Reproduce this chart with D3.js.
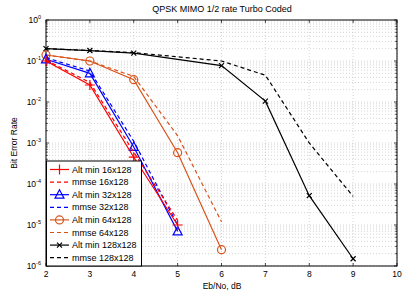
<!DOCTYPE html>
<html>
<head>
<meta charset="utf-8">
<script src="https://cdn.jsdelivr.net/npm/d3@7"></script>
<style>
  body { margin: 0; background: #fff; }
  text { font-family: "Liberation Sans", Arial, sans-serif; }
</style>
</head>
<body>
<svg id="chart" width="413" height="297"></svg>
<script>
// Eb/No values and BER per curve
const ebno = [2, 3, 4, 5, 6, 7, 8, 9];
const ebno128 = [2, 3, 4, 6, 7, 8, 9];

const altMin16 = [0.1, 0.026, 4.5e-4, 1.0e-5];
const mmse16 = [0.105, 0.03, 6e-4, 1.3e-5];
const altMin32 = [0.11, 0.05, 8e-4, 7e-6];
const mmse32 = [0.12, 0.057, 1.1e-3, 1.0e-5];
const altMin64 = [0.14, 0.1, 0.035, 5.8e-4, 2.5e-6];
const mmse64 = [0.14, 0.1, 0.042, 1.5e-3, 1.2e-5];
const altMin128 = [0.2, 0.18, 0.155, 0.077, 0.0105, 5.2e-5, 1.5e-6];
const mmse128 = [0.2, 0.18, 0.16, 0.1, 0.045, 1.0e-3, 5e-5];

const xTicks = [2, 3, 4, 5, 6, 7, 8, 9, 10];
const yExps = [0, -1, -2, -3, -4, -5, -6];

const seriesNames = ['Alt min 16x128', 'mmse 16x128', 'Alt min 32x128', 'mmse 32x128',
  'Alt min 64x128', 'mmse 64x128', 'Alt min 128x128', 'mmse 128x128'];
const seriesData = [altMin16, mmse16, altMin32, mmse32, altMin64, mmse64, altMin128, mmse128];
const seriesX = [ebno, ebno, ebno, ebno, ebno, ebno, ebno128, ebno128];
const seriesColors = ['#ff0000', '#ff0000', '#0000ff', '#0000ff', '#d95319', '#d95319', '#000000', '#000000'];
const seriesDash = [null, '4,3', null, '4,3', null, '4,3', null, '4,3'];
const seriesMarker = ['plus', null, 'triangle', null, 'circle', null, 'cross', null];

const svg = d3.select('#chart');
const pL = 46, pR = 397, pT = 20, pB = 266;

const x = d3.scaleLinear().domain([2, 10]).range([pL, pR]);
const y = d3.scaleLog().domain([1e-6, 1]).range([pB, pT]);

// grid
const grid = svg.append('g');
xTicks.forEach(function(t) {
  grid.append('line').attr('x1', x(t)).attr('x2', x(t)).attr('y1', pT).attr('y2', pB)
    .attr('stroke', '#bbb').attr('stroke-width', 0.6).attr('stroke-dasharray', '1,2');
});
for (let e = -6; e < 0; e++) {
  for (let m = 1; m < 10; m++) {
    const v = m * Math.pow(10, e);
    grid.append('line').attr('x1', pL).attr('x2', pR).attr('y1', y(v)).attr('y2', y(v))
      .attr('stroke', '#bbb').attr('stroke-width', 0.6).attr('stroke-dasharray', '1,2');
  }
}

// axes box
svg.append('rect').attr('x', pL).attr('y', pT).attr('width', pR - pL).attr('height', pB - pT)
  .attr('fill', 'none').attr('stroke', '#000').attr('stroke-width', 1);

// ticks
const tk = svg.append('g').attr('stroke', '#000').attr('stroke-width', 0.7);
xTicks.forEach(function(t) {
  tk.append('line').attr('x1', x(t)).attr('x2', x(t)).attr('y1', pB).attr('y2', pB - 3);
  tk.append('line').attr('x1', x(t)).attr('x2', x(t)).attr('y1', pT).attr('y2', pT + 3);
  svg.append('text').attr('x', x(t)).attr('y', pB + 11).attr('text-anchor', 'middle')
    .attr('font-size', 8.5).text(t);
});
for (let e = -6; e <= 0; e++) {
  for (let m = 1; m < 10; m++) {
    if (e === 0 && m > 1) break;
    const v = m * Math.pow(10, e);
    const len = m === 1 ? 3 : 1.8;
    tk.append('line').attr('x1', pL).attr('x2', pL + len).attr('y1', y(v)).attr('y2', y(v));
    tk.append('line').attr('x1', pR).attr('x2', pR - len).attr('y1', y(v)).attr('y2', y(v));
  }
}
yExps.forEach(function(e) {
  const t = svg.append('text').attr('x', pL - 5).attr('y', y(Math.pow(10, e)) + 3)
    .attr('text-anchor', 'end').attr('font-size', 8.5);
  t.append('tspan').text('10');
  t.append('tspan').attr('dy', -4).attr('font-size', 5.5).text(e);
});

// titles
svg.append('text').attr('x', 222).attr('y', 12).attr('text-anchor', 'middle')
  .attr('font-size', 9).text('QPSK MIMO 1/2 rate Turbo Coded');
svg.append('text').attr('x', 222).attr('y', 289).attr('text-anchor', 'middle')
  .attr('font-size', 8.5).text('Eb/No, dB');
svg.append('text').attr('transform', 'translate(17,' + ((pT + pB) / 2) + ') rotate(-90)')
  .attr('text-anchor', 'middle').attr('font-size', 8.5).text('Bit Error Rate');

function drawMarker(g, kind, cx, cy, color) {
  if (kind === 'plus') {
    g.append('path').attr('d', 'M' + (cx - 5) + ',' + cy + 'H' + (cx + 5) + 'M' + cx + ',' + (cy - 5) + 'V' + (cy + 5))
      .attr('stroke', color).attr('stroke-width', 1.2);
  } else if (kind === 'triangle') {
    g.append('path').attr('d', 'M' + cx + ',' + (cy - 5) + 'L' + (cx + 4.5) + ',' + (cy + 3.5) + 'L' + (cx - 4.5) + ',' + (cy + 3.5) + 'Z')
      .attr('stroke', color).attr('fill', 'none').attr('stroke-width', 1.2);
  } else if (kind === 'circle') {
    g.append('circle').attr('cx', cx).attr('cy', cy).attr('r', 4)
      .attr('stroke', color).attr('fill', 'none').attr('stroke-width', 1.2);
  } else if (kind === 'cross') {
    g.append('path').attr('d', 'M' + (cx - 2.5) + ',' + (cy - 2.5) + 'L' + (cx + 2.5) + ',' + (cy + 2.5) + 'M' + (cx + 2.5) + ',' + (cy - 2.5) + 'L' + (cx - 2.5) + ',' + (cy + 2.5))
      .attr('stroke', color).attr('stroke-width', 1.2);
  }
}

// draw from last to first so red/blue sit on top
for (let s = seriesData.length - 1; s >= 0; s--) {
  const xs = seriesX[s];
  const line = d3.line().x(function(d, i) { return x(xs[i]); }).y(function(d) { return y(d); });
  const g = svg.append('g');
  g.append('path').datum(seriesData[s]).attr('d', line)
    .attr('fill', 'none').attr('stroke', seriesColors[s]).attr('stroke-width', 1.2)
    .attr('stroke-dasharray', seriesDash[s]);
  if (seriesMarker[s]) {
    seriesData[s].forEach(function(d, i) {
      drawMarker(g, seriesMarker[s], x(xs[i]), y(d), seriesColors[s]);
    });
  }
}

// legend
const lg = svg.append('g');
lg.append('rect').attr('x', 46.5).attr('y', 161).attr('width', 95).attr('height', 105)
  .attr('fill', '#fff').attr('stroke', '#000').attr('stroke-width', 1);
seriesNames.forEach(function(name, i) {
  const ly = 169.5 + i * 12.6;
  lg.append('line').attr('x1', 50).attr('x2', 69).attr('y1', ly).attr('y2', ly)
    .attr('stroke', seriesColors[i]).attr('stroke-width', 1.2).attr('stroke-dasharray', seriesDash[i]);
  if (seriesMarker[i]) drawMarker(lg, seriesMarker[i], 59.5, ly, seriesColors[i]);
  lg.append('text').attr('x', 72).attr('y', ly + 3).attr('font-size', 9).text(name);
});
</script>
</body>
</html>
